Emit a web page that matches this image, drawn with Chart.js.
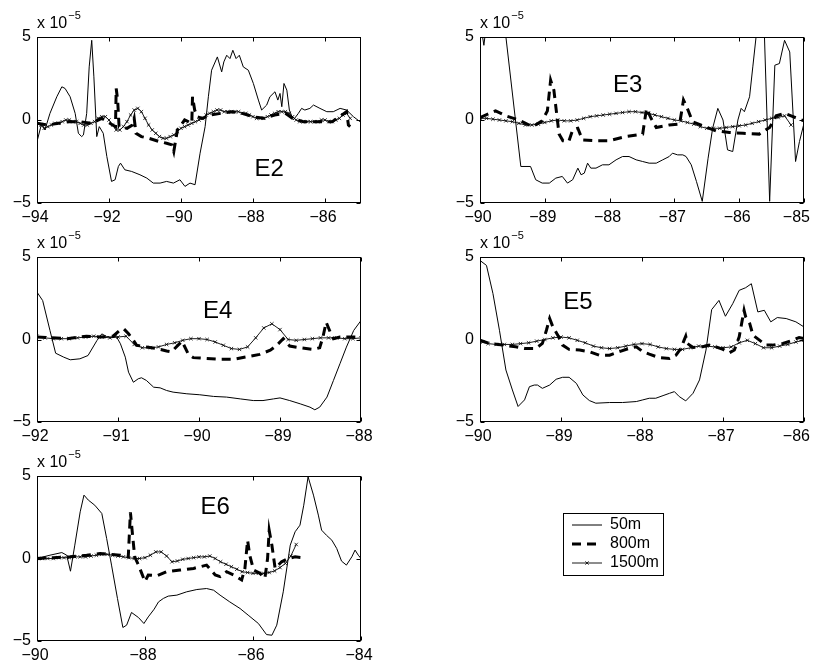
<!DOCTYPE html>
<html>
<head>
<meta charset="utf-8">
<script src="https://cdn.jsdelivr.net/npm/chart.js@4/dist/chart.umd.min.js"></script>
<style>
  html, body { margin: 0; padding: 0; background: #fff; }
  body { width: 815px; height: 664px; position: relative; overflow: hidden; }
  canvas { position: absolute; }
</style>
</head>
<body>
<canvas id="e2" width="380" height="221" style="left:0px;top:7px"></canvas>
<canvas id="e3" width="380" height="221" style="left:443px;top:7px"></canvas>
<canvas id="e4" width="380" height="220" style="left:0px;top:227px"></canvas>
<canvas id="e5" width="380" height="220" style="left:443px;top:227px"></canvas>
<canvas id="e6" width="700" height="220" style="left:0px;top:446px"></canvas>
<script>
/* =========================
   Data (values in units of 1e-5)
========================= */
const yTicks = [-5, 0, 5];

// E2
const e2Ticks = [-94, -92, -90, -88, -86];
const e2Lon50 = [-94.00,-93.87,-93.78,-93.64,-93.45,-93.31,-93.22,-93.08,-92.94,-92.85,-92.76,-92.71,-92.62,-92.55,-92.48,-92.42,-92.34,-92.27,-92.16,-92.06,-91.93,-91.83,-91.74,-91.68,-91.56,-91.37,-91.14,-90.95,-90.77,-90.58,-90.40,-90.21,-90.03,-89.89,-89.75,-89.61,-89.47,-89.33,-89.24,-89.15,-88.99,-88.87,-88.81,-88.73,-88.64,-88.56,-88.47,-88.38,-88.27,-88.13,-87.99,-87.85,-87.76,-87.62,-87.53,-87.39,-87.31,-87.25,-87.20,-87.14,-87.06,-86.99,-86.88,-86.74,-86.65,-86.56,-86.42,-86.32,-86.14,-85.95,-85.77,-85.58,-85.40,-85.21,-85.03];
const e2Val50 = [-1.3,-0.2,-0.6,0.4,1.4,2.0,1.9,1.4,0.4,-0.8,-1.0,-0.9,0.4,3.2,4.8,2.6,-1.0,-0.4,-0.8,-2.2,-3.7,-3.6,-2.8,-2.6,-3.0,-3.1,-3.3,-3.5,-3.8,-3.8,-3.7,-3.8,-3.6,-4.0,-3.8,-3.9,-2.0,-0.4,1.4,3.0,3.8,2.9,3.5,3.9,3.7,4.2,3.7,3.9,3.2,3.0,2.2,1.2,0.6,0.9,1.4,1.7,1.2,1.6,0.8,2.2,1.8,0.6,0.0,0.4,0.7,0.6,0.7,0.9,0.7,0.5,0.5,0.7,0.6,0.2,-0.1];
const e2Lon800 = [-94.0,-93.7,-93.4,-93.1,-92.8,-92.5,-92.2,-91.9,-91.82,-91.8,-91.76,-91.72,-91.5,-91.35,-91.3,-91.25,-91.1,-90.9,-90.6,-90.4,-90.25,-90.2,-90.1,-90.0,-89.9,-89.7,-89.68,-89.62,-89.55,-89.4,-89.2,-88.9,-88.6,-88.3,-88.0,-87.7,-87.4,-87.1,-86.9,-86.6,-86.3,-86.0,-85.8,-85.6,-85.4,-85.35,-85.3];
const e2Val800 = [-0.2,-0.3,-0.2,-0.1,-0.1,-0.2,0.1,-0.3,-0.4,1.9,1.2,-0.4,-0.5,-0.3,0.1,-0.8,-1.0,-1.1,-1.3,-1.4,-1.5,-1.9,-0.6,-0.3,0.0,-0.2,1.4,0.6,0.2,0.1,0.3,0.4,0.5,0.4,0.2,0.1,0.3,0.4,0.1,-0.1,-0.1,-0.1,-0.1,0.2,0.5,-0.3,-0.4];
const e2Start1500 = -94.0;
const e2Val1500 = [-0.1,-0.3,-0.5,-0.4,-0.3,-0.2,-0.2,-0.1,0.0,0.0,
  -0.1,-0.1,-0.2,-0.3,-0.3,-0.2,-0.1,0.1,0.2,0.2,
  0.0,-0.3,-0.6,-0.6,-0.4,-0.1,0.3,0.6,0.7,0.5,
  0.1,-0.3,-0.6,-0.8,-1.0,-1.1,-1.1,-1.0,-0.9,-0.7,
  -0.5,-0.4,-0.3,-0.2,-0.1,0.0,0.1,0.3,0.4,0.5,
  0.6,0.6,0.5,0.5,0.5,0.5,0.5,0.4,0.4,0.3,
  0.2,0.1,0.1,0.1,0.2,0.3,0.4,0.5,0.5,0.5,
  0.4,0.2,0.0,-0.1,-0.1,-0.1,-0.1,-0.1,-0.1,0.0,
  0.0,-0.1,-0.1,0.0,0.1,0.3,0.4,0.1];

// E3
const e3Ticks = [-90, -89, -88, -87, -86, -85];
const e3Lon50 = [-90.0,-89.96,-89.94,-89.90,-89.76,-89.60,-89.37,-89.22,-89.14,-89.04,-88.93,-88.83,-88.73,-88.65,-88.57,-88.49,-88.44,-88.39,-88.34,-88.29,-88.21,-88.11,-88.01,-87.90,-87.80,-87.70,-87.59,-87.49,-87.39,-87.28,-87.18,-87.08,-87.03,-86.95,-86.87,-86.82,-86.74,-86.66,-86.57,-86.48,-86.41,-86.33,-86.25,-86.18,-86.10,-86.02,-85.97,-85.92,-85.84,-85.79,-85.74,-85.68,-85.61,-85.53,-85.45,-85.38,-85.30,-85.22,-85.13,-85.07,-85.00];
const e3Val50 = [5.6,5.0,4.5,5.8,7.0,5.0,-2.8,-2.8,-3.6,-3.8,-3.8,-3.5,-3.4,-3.8,-3.6,-2.9,-3.3,-3.2,-2.6,-2.9,-2.9,-2.7,-2.7,-2.4,-2.2,-2.2,-2.4,-2.5,-2.6,-2.6,-2.4,-2.2,-2.0,-2.1,-2.1,-2.2,-2.7,-3.7,-4.9,-2.3,-0.5,0.7,0.0,-1.8,-1.9,0.0,0.7,0.5,1.4,3.2,5.0,8.0,5.0,-4.9,3.3,3.4,4.8,4.1,-2.5,-1.3,-0.2];
const e3Lon800 = [-90.0,-89.76,-89.60,-89.40,-89.19,-89.04,-88.96,-88.91,-88.86,-88.78,-88.72,-88.63,-88.57,-88.49,-88.42,-88.21,-88.01,-87.75,-87.49,-87.43,-87.36,-87.28,-87.08,-86.92,-86.86,-86.79,-86.72,-86.56,-86.36,-86.15,-85.94,-85.69,-85.53,-85.43,-85.30,-85.17,-85.00];
const e3Val800 = [0.15,0.55,0.25,0.0,-0.4,-0.05,0.55,2.4,1.8,-0.85,-1.25,-1.3,-0.6,-0.5,-1.2,-1.25,-1.25,-1.0,-0.85,0.7,0.1,-0.45,-0.3,-0.25,1.2,0.6,-0.1,-0.35,-0.65,-0.75,-0.8,-0.85,-0.45,0.25,0.4,0.2,-0.05];
const e3Start1500 = -90.0;
const e3Val1500 = [0.1,0.1,0.05,0.0,-0.05,-0.1,-0.2,-0.3,-0.3,-0.25,
  -0.15,-0.05,0.0,-0.05,-0.05,0.0,0.1,0.2,0.25,0.3,
  0.35,0.4,0.45,0.5,0.5,0.45,0.4,0.3,0.2,0.1,
  0.0,-0.05,-0.15,-0.25,-0.4,-0.5,-0.5,-0.5,-0.45,-0.4,
  -0.35,-0.3,-0.2,-0.1,0.0,0.1,0.15,0.25,-0.3];

// E4
const e4Ticks = [-92, -91, -90, -89, -88];
const e4Lon50 = [-92.00,-91.93,-91.84,-91.77,-91.67,-91.59,-91.47,-91.37,-91.26,-91.20,-91.14,-91.08,-91.02,-90.97,-90.91,-90.87,-90.81,-90.75,-90.71,-90.65,-90.56,-90.48,-90.40,-90.32,-90.15,-89.99,-89.82,-89.66,-89.49,-89.33,-89.21,-89.08,-89.00,-88.88,-88.75,-88.63,-88.57,-88.51,-88.42,-88.34,-88.26,-88.18,-88.09,-88.00];
const e4Val50 = [2.87,2.36,0.55,-0.83,-1.07,-1.23,-1.17,-0.97,-0.06,0.34,0.18,0.14,0.18,-0.26,-1.07,-1.98,-2.59,-2.38,-2.32,-2.48,-2.89,-2.93,-3.09,-3.19,-3.29,-3.35,-3.45,-3.49,-3.6,-3.7,-3.7,-3.6,-3.54,-3.7,-3.9,-4.1,-4.26,-4.1,-3.49,-2.48,-1.47,-0.46,0.55,1.15];
const e4Lon800 = [-92.0,-91.63,-91.39,-91.22,-91.06,-90.98,-90.93,-90.87,-90.81,-90.77,-90.65,-90.52,-90.40,-90.34,-90.21,-90.13,-90.07,-89.91,-89.74,-89.58,-89.41,-89.25,-89.12,-89.04,-88.96,-88.88,-88.75,-88.59,-88.51,-88.47,-88.43,-88.38,-88.34,-88.26,-88.14,-88.0];
const e4Val800 = [0.15,0.05,0.2,0.15,0.2,0.55,0.65,0.35,-0.05,-0.35,-0.45,-0.55,-0.7,-0.75,-0.1,-0.9,-1.1,-1.15,-1.2,-1.2,-1.05,-0.9,-0.65,-0.35,0.05,-0.4,-0.5,-0.6,-0.5,0.15,1.05,0.45,0.05,0.15,0.15,0.15];
const e4Start1500 = -92.0;
const e4Val1500 = [0.2,0.1,0.05,0.05,0.05,0.1,0.15,0.2,0.15,0.1,
  0.15,0.2,-0.3,-0.5,-0.5,-0.45,-0.3,-0.2,-0.05,0.05,
  0.05,0.0,-0.15,-0.35,-0.55,-0.6,-0.45,0.1,0.7,0.95,
  0.6,0.0,-0.05,0.0,0.05,0.1,0.1,0.1,0.05,0.05,
  0.1];

// E5
const e5Ticks = [-90, -89, -88, -87, -86];
const e5Lon50 = [-90.00,-89.92,-89.84,-89.76,-89.68,-89.60,-89.53,-89.45,-89.39,-89.33,-89.29,-89.23,-89.14,-89.06,-88.98,-88.90,-88.81,-88.73,-88.65,-88.57,-88.40,-88.24,-88.07,-87.99,-87.91,-87.83,-87.74,-87.66,-87.60,-87.54,-87.46,-87.37,-87.29,-87.21,-87.14,-87.05,-86.97,-86.88,-86.80,-86.72,-86.65,-86.57,-86.49,-86.41,-86.33,-86.22,-86.10,-86.00];
const e5Val50 = [4.79,4.49,2.78,0.56,-1.85,-3.06,-4.06,-3.66,-2.86,-2.76,-2.76,-2.96,-2.76,-2.41,-2.29,-2.29,-2.66,-3.36,-3.7,-3.86,-3.82,-3.82,-3.76,-3.66,-3.56,-3.56,-3.4,-3.26,-3.16,-3.46,-3.72,-3.26,-2.45,-0.64,1.81,2.37,1.41,2.17,2.98,3.14,3.38,1.67,1.77,1.07,1.33,1.27,1.07,0.76];
const e5Lon800 = [-90.00,-89.88,-89.72,-89.56,-89.45,-89.31,-89.23,-89.18,-89.14,-89.10,-89.04,-88.98,-88.90,-88.77,-88.65,-88.53,-88.40,-88.28,-88.16,-88.07,-87.99,-87.91,-87.79,-87.66,-87.58,-87.52,-87.48,-87.46,-87.44,-87.37,-87.25,-87.17,-87.09,-87.00,-86.92,-86.86,-86.80,-86.77,-86.74,-86.72,-86.67,-86.63,-86.55,-86.47,-86.39,-86.26,-86.14,-86.06,-86.00];
const e5Val800 = [-0.04,-0.24,-0.34,-0.44,-0.54,-0.54,-0.24,0.56,1.27,0.76,0.26,-0.34,-0.6,-0.64,-0.74,-0.95,-0.95,-0.74,-0.54,-0.44,-0.74,-0.89,-1.09,-1.15,-0.95,-0.54,-0.04,0.2,-0.24,-0.48,-0.44,-0.34,-0.44,-0.6,-0.8,-0.64,0.16,0.97,1.77,1.37,0.97,0.26,-0.04,-0.34,-0.34,-0.24,-0.04,0.12,0.06];
const e5Start1500 = -90.0;
const e5Val1500 = [-0.15,-0.25,-0.3,-0.3,-0.3,-0.25,-0.2,-0.1,0.0,0.1,
  0.15,0.1,-0.05,-0.2,-0.4,-0.5,-0.55,-0.5,-0.4,-0.3,
  -0.25,-0.3,-0.45,-0.55,-0.6,-0.6,-0.5,-0.4,-0.4,-0.45,
  -0.5,-0.45,-0.2,-0.05,-0.25,-0.5,-0.5,-0.4,-0.3,-0.15,
  -0.05];

// E6
const e6Ticks = [-90, -88, -86, -84];
const e6Lon50 = [-90.00,-89.76,-89.54,-89.45,-89.38,-89.30,-89.20,-89.13,-89.05,-88.93,-88.80,-88.71,-88.62,-88.51,-88.41,-88.34,-88.25,-88.12,-88.02,-87.94,-87.83,-87.75,-87.66,-87.57,-87.41,-87.23,-87.04,-86.86,-86.73,-86.61,-86.43,-86.24,-86.09,-85.90,-85.75,-85.65,-85.56,-85.44,-85.31,-85.22,-85.13,-85.06,-84.98,-84.88,-84.79,-84.73,-84.64,-84.54,-84.45,-84.36,-84.27,-84.17,-84.11,-84.05,-84.00];
const e6Val50 = [0,0.2,0.36,0.2,-0.77,0.81,2.83,3.84,3.54,3.23,2.73,1.21,-0.4,-2.42,-4.18,-4.04,-3.27,-3.58,-3.94,-3.54,-3.07,-2.63,-2.42,-2.28,-2.22,-2.02,-1.88,-1.82,-1.92,-2.22,-2.63,-3.03,-3.43,-3.94,-4.61,-4.65,-4.04,-2.02,0.81,1.62,2.02,3.23,4.95,3.84,2.63,1.72,1.41,1.11,0.61,-0.16,-0.4,0.1,0.51,0.2,0];
const e6Lon800 = [-90.00,-89.70,-89.39,-89.08,-88.83,-88.65,-88.46,-88.31,-88.27,-88.23,-88.19,-88.12,-88.06,-88.00,-87.94,-87.78,-87.60,-87.35,-87.10,-86.86,-86.70,-86.61,-86.49,-86.36,-86.21,-86.15,-86.10,-86.06,-85.99,-85.87,-85.78,-85.73,-85.70,-85.65,-85.59,-85.47,-85.35,-85.22,-85.07];
const e6Val800 = [0,0.05,0.1,0.2,0.3,0.25,0.2,0.1,2.8,1.4,0.1,-0.4,-0.9,-1.4,-1.0,-1.05,-0.8,-0.7,-0.6,-0.4,-1.0,-1.1,-0.8,-1.0,-1.3,-0.6,1.1,0.2,-0.7,-0.9,-1.2,0.0,1.7,0.8,-0.6,-0.2,0.0,0.1,0.05];
const e6Start1500 = -90.0;
const e6Val1500 = [0.0,0.0,0.0,0.0,0.05,0.05,0.05,0.1,0.1,0.1,
  0.15,0.2,0.25,0.25,0.2,0.15,0.1,0.05,0.0,0.0,
  0.05,0.2,0.4,0.4,0.15,-0.2,-0.15,-0.05,0.0,0.05,
  0.1,0.1,0.15,0.0,-0.2,-0.35,-0.5,-0.65,-0.8,-0.85,
  -0.9,-0.9,-0.9,-0.85,-0.75,-0.55,-0.3,0.15,0.85];

const depthLabels = ['50m', '800m', '1500m'];
const step1500 = 0.1;

/* =========================
   Helpers
========================= */
const FONT = '"Liberation Sans", Arial, Helvetica, sans-serif';
Chart.defaults.font.family = FONT;
Chart.defaults.color = '#000';

function pts(lons, vals) {
    return lons.map((x, i) => ({ x: x, y: vals[i] }));
}

// 1500m series sampled every 0.1 degree from its first longitude
function pts1500(start, vals) {
    return vals.map((v, i) => ({ x: +(start + i * step1500).toFixed(2), y: v }));
}

function minusFmt(v) {
    return v < 0 ? '\u2212' + Math.abs(v) : String(v);
}

function makeDatasets(d50, d800, d1500) {
    return [
        {
            label: depthLabels[0], data: d50, order: 3,
            borderColor: '#000', borderWidth: 1, pointRadius: 0
        },
        {
            label: depthLabels[1], data: d800, order: 2,
            borderColor: '#000', borderWidth: 3, borderDash: [9, 6], pointRadius: 0
        },
        {
            label: depthLabels[2], data: d1500, order: 1,
            borderColor: '#000', borderWidth: 0.9,
            pointStyle: 'crossRot', pointRadius: 2.4,
            pointBorderColor: '#000', pointBorderWidth: 0.8
        }
    ];
}

/* =========================
   Plugins: box, inward ticks, multiplier, panel name, legend
========================= */
const framePlugin = {
    id: 'frame',
    beforeDraw(chart, args, opts) {
        // keep the last x label inside the figure (right column)
        if (!opts.lastInside) return;
        const items = chart.scales.x.getLabelItems();
        const last = items[items.length - 1];
        last.options.textAlign = 'right';
        last.options.translation = [chart.chartArea.right + 6, last.options.translation[1]];
    },
    afterDatasetsDraw(chart, args, opts) {
        const { ctx, chartArea: a } = chart;
        const xs = chart.scales.x;
        const ys = chart.scales.y;
        const L = Math.round(a.left) + 0.5, R = Math.round(a.right) - 0.5;
        const T = Math.round(a.top) + 0.5, B = Math.round(a.bottom) - 0.5;
        ctx.save();
        ctx.strokeStyle = '#000';
        ctx.lineWidth = 1;
        ctx.setLineDash([]);
        ctx.beginPath();
        xs.ticks.forEach(t => {
            const px = Math.round(xs.getPixelForValue(t.value)) + 0.5;
            ctx.moveTo(px, B); ctx.lineTo(px, B - 4);
            ctx.moveTo(px, T); ctx.lineTo(px, T + 4);
        });
        ys.ticks.forEach(t => {
            const py = Math.round(ys.getPixelForValue(t.value)) + 0.5;
            ctx.moveTo(L, py); ctx.lineTo(L + 4, py);
            ctx.moveTo(R, py); ctx.lineTo(R - 4, py);
        });
        ctx.stroke();
        ctx.strokeRect(L, T, R - L, B - T);

        // x 10^-5 multiplier
        ctx.fillStyle = '#000';
        ctx.textAlign = 'left';
        ctx.textBaseline = 'alphabetic';
        ctx.font = '16px ' + FONT;
        ctx.fillText('x 10', a.left, a.top - 9);
        const w = ctx.measureText('x 10').width;
        ctx.font = '11px ' + FONT;
        ctx.fillText('\u22125', a.left + w + 1, a.top - 18);

        // panel name
        if (opts.name) {
            ctx.font = '24px ' + FONT;
            ctx.textAlign = 'center';
            ctx.textBaseline = 'middle';
            ctx.fillText(opts.name, xs.getPixelForValue(opts.at[0]), ys.getPixelForValue(opts.at[1]));
        }
        ctx.restore();
    }
};

const legendPlugin = {
    id: 'depthLegend',
    afterDraw(chart, args, opts) {
        if (!opts.box) return;
        const { ctx } = chart;
        const b = opts.box;
        ctx.save();
        ctx.fillStyle = '#fff';
        ctx.fillRect(b.x, b.y, b.w, b.h);
        ctx.strokeStyle = '#000';
        ctx.lineWidth = 1;
        ctx.strokeRect(b.x + 0.5, b.y + 0.5, b.w, b.h);
        ctx.font = '16px ' + FONT;
        ctx.textAlign = 'left';
        ctx.textBaseline = 'middle';
        chart.data.datasets.forEach((ds, i) => {
            const y = b.y + opts.rows[i];
            ctx.beginPath();
            ctx.setLineDash(ds.borderDash || []);
            ctx.lineWidth = ds.borderWidth;
            ctx.moveTo(b.x + 9, y);
            ctx.lineTo(b.x + 39, y);
            ctx.stroke();
            ctx.setLineDash([]);
            if (ds.pointRadius) {
                const cx = b.x + 24, r = ds.pointRadius * 0.7;
                ctx.lineWidth = ds.pointBorderWidth;
                ctx.beginPath();
                ctx.moveTo(cx - r, y - r); ctx.lineTo(cx + r, y + r);
                ctx.moveTo(cx - r, y + r); ctx.lineTo(cx + r, y - r);
                ctx.stroke();
            }
            ctx.fillStyle = '#000';
            ctx.fillText(ds.label, b.x + 47, y);
        });
        ctx.restore();
    }
};

/* =========================
   Panel builder
========================= */
function makePanel(id, cfg) {
    const ctx = document.getElementById(id).getContext('2d');
    return new Chart(ctx, {
        type: 'line',
        data: { datasets: makeDatasets(cfg.d50, cfg.d800, cfg.d1500) },
        options: {
            responsive: false,
            animation: false,
            events: [],
            layout: { padding: { top: 30, right: cfg.padRight, left: 0, bottom: 0 } },
            elements: { line: { tension: 0 } },
            plugins: {
                legend: { display: false },
                tooltip: { enabled: false },
                frame: { name: cfg.name, at: cfg.at, lastInside: !!cfg.lastInside },
                depthLegend: cfg.legend || {}
            },
            scales: {
                x: {
                    type: 'linear',
                    min: cfg.xMin,
                    max: cfg.xMax,
                    grid: { display: false, drawTicks: false },
                    border: { display: false },
                    afterBuildTicks: s => { s.ticks = cfg.ticks.map(v => ({ value: v })); },
                    afterFit: s => { s.height = 25; },
                    ticks: {
                        padding: 5, autoSkip: false, maxRotation: 0, labelOffset: -2,
                        font: { size: 16 }, color: '#000',
                        callback: v => minusFmt(v)
                    }
                },
                y: {
                    min: -5,
                    max: 5,
                    grid: { display: false, drawTicks: false },
                    border: { display: false },
                    afterBuildTicks: s => { s.ticks = yTicks.map(v => ({ value: v })); },
                    afterFit: s => { s.width = 37; },
                    ticks: {
                        padding: 6,
                        font: { size: 16 }, color: '#000',
                        callback: v => minusFmt(v)
                    }
                }
            }
        },
        plugins: [framePlugin, legendPlugin]
    });
}

/* =========================
   Draw panels
========================= */
makePanel('e2', {
    name: 'E2', at: [-87.55, -3.0], xMin: -94, xMax: -85, ticks: e2Ticks, padRight: 19,
    d50: pts(e2Lon50, e2Val50), d800: pts(e2Lon800, e2Val800), d1500: pts1500(e2Start1500, e2Val1500)
});
makePanel('e3', {
    name: 'E3', at: [-87.72, 2.1], xMin: -90, xMax: -85, ticks: e3Ticks, padRight: 19, lastInside: true,
    d50: pts(e3Lon50, e3Val50), d800: pts(e3Lon800, e3Val800), d1500: pts1500(e3Start1500, e3Val1500)
});
makePanel('e4', {
    name: 'E4', at: [-89.77, 1.73], xMin: -92, xMax: -88, ticks: e4Ticks, padRight: 19,
    d50: pts(e4Lon50, e4Val50), d800: pts(e4Lon800, e4Val800), d1500: pts1500(e4Start1500, e4Val1500)
});
makePanel('e5', {
    name: 'E5', at: [-88.79, 2.27], xMin: -90, xMax: -86, ticks: e5Ticks, padRight: 19, lastInside: true,
    d50: pts(e5Lon50, e5Val50), d800: pts(e5Lon800, e5Val800), d1500: pts1500(e5Start1500, e5Val1500)
});
makePanel('e6', {
    name: 'E6', at: [-86.70, 3.12], xMin: -90, xMax: -84, ticks: e6Ticks, padRight: 339,
    d50: pts(e6Lon50, e6Val50), d800: pts(e6Lon800, e6Val800), d1500: pts1500(e6Start1500, e6Val1500),
    legend: { box: { x: 563, y: 67, w: 100, h: 62 }, rows: [12, 31, 50] }
});
</script>
</body>
</html>
